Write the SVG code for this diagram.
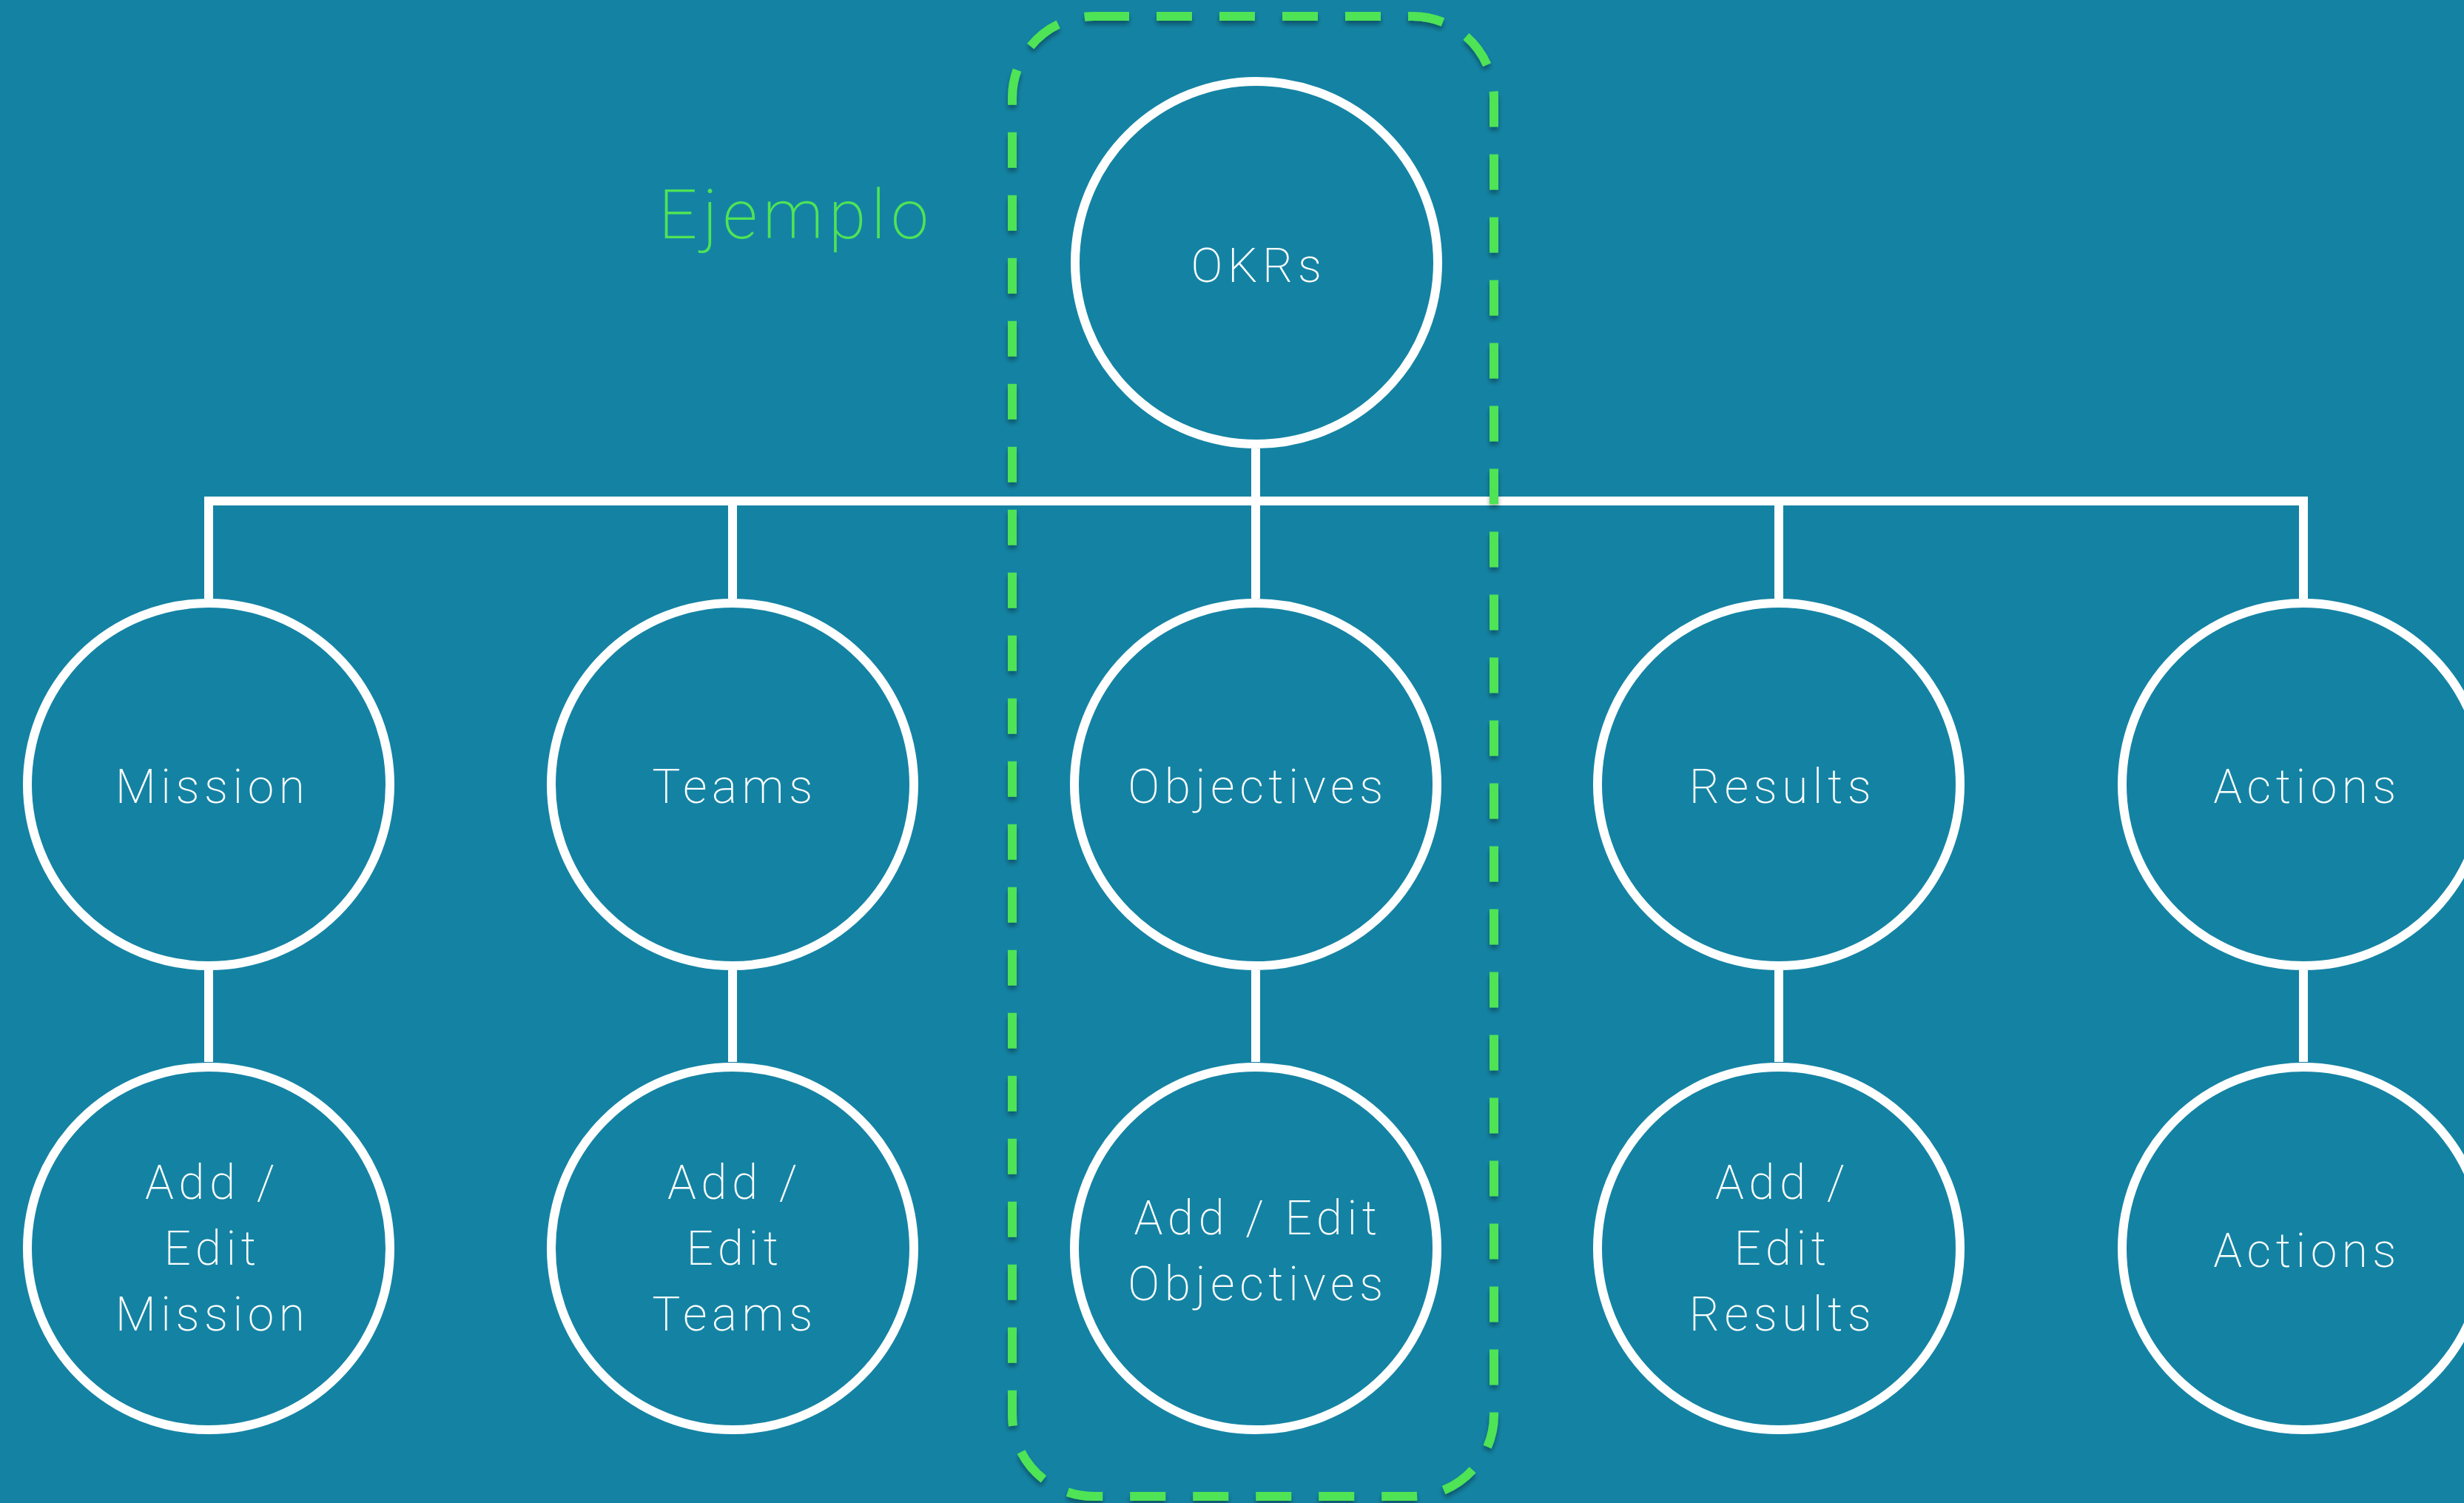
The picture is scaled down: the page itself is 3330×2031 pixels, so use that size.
<svg xmlns="http://www.w3.org/2000/svg" width="3330" height="2031" viewBox="0 0 3330 2031">
  <style>
    .node circle { fill: none; stroke: #ffffff; stroke-width: 12; }
    .node text { fill: #ffffff; font-family: Roboto, "Liberation Sans", sans-serif; font-weight: 200; font-size: 64px; letter-spacing: 6.5px; text-anchor: middle; }
    .conn { fill: none; stroke: #ffffff; stroke-width: 12; stroke-linejoin: miter; }
    .label { fill: #4fe356; font-family: Roboto, "Liberation Sans", sans-serif; font-weight: 200; font-size: 92px; letter-spacing: 7px; }
    .group-box { fill: none; stroke: #4fe356; stroke-width: 12; stroke-dasharray: 48 37; }
  </style>
  <defs>
    <filter id="shadow" x="-10%" y="-10%" width="120%" height="120%">
      <feDropShadow dx="0" dy="5" stdDeviation="3" flood-color="#000000" flood-opacity="0.35"/>
    </filter>
  </defs>
  <rect x="0" y="0" width="3330" height="2031" fill="#1483a3"/>

  <g id="connectors">
    <path class="conn" d="M282,809 V677 H3113 V809"/>
    <path class="conn" d="M990,677 V809"/>
    <path class="conn" d="M1697,606 V809"/>
    <path class="conn" d="M2404,677 V809"/>
    <path class="conn" d="M282,1311 V1435"/>
    <path class="conn" d="M990,1311 V1435"/>
    <path class="conn" d="M1697,1311 V1435"/>
    <path class="conn" d="M2404,1311 V1435"/>
    <path class="conn" d="M3113,1311 V1435"/>
  </g>

  <g id="okrs" class="node">
    <circle cx="1698" cy="355" r="245"/>
    <text x="1701" y="381">OKRs</text>
  </g>

  <g id="mission" class="node">
    <circle cx="282" cy="1060" r="245"/>
    <text x="287" y="1085">Mission</text>
  </g>
  <g id="teams" class="node">
    <circle cx="990" cy="1060" r="245"/>
    <text x="993" y="1085">Teams</text>
  </g>
  <g id="objectives" class="node">
    <circle cx="1697" cy="1060" r="245"/>
    <text x="1700" y="1085">Objectives</text>
  </g>
  <g id="results" class="node">
    <circle cx="2404" cy="1060" r="245"/>
    <text x="2409" y="1085">Results</text>
  </g>
  <g id="actions" class="node">
    <circle cx="3113" cy="1060" r="245"/>
    <text x="3118" y="1085">Actions</text>
  </g>

  <g id="edit-mission" class="node">
    <circle cx="282" cy="1687" r="245"/>
    <text x="287" y="1620">Add /</text>
    <text x="287" y="1709">Edit</text>
    <text x="287" y="1798">Mission</text>
  </g>
  <g id="edit-teams" class="node">
    <circle cx="990" cy="1687" r="245"/>
    <text x="993" y="1620">Add /</text>
    <text x="993" y="1709">Edit</text>
    <text x="993" y="1798">Teams</text>
  </g>
  <g id="edit-objectives" class="node">
    <circle cx="1697" cy="1687" r="245"/>
    <text x="1700" y="1668">Add / Edit</text>
    <text x="1700" y="1757">Objectives</text>
  </g>
  <g id="edit-results" class="node">
    <circle cx="2404" cy="1687" r="245"/>
    <text x="2409" y="1620">Add /</text>
    <text x="2409" y="1709">Edit</text>
    <text x="2409" y="1798">Results</text>
  </g>
  <g id="actions-leaf" class="node">
    <circle cx="3113" cy="1687" r="245"/>
    <text x="3118" y="1712">Actions</text>
  </g>

  <g id="ejemplo-group">
    <rect class="group-box" filter="url(#shadow)" x="1368" y="22" width="651" height="2000" rx="110" ry="110"/>
    <text class="label" x="890" y="322">Ejemplo</text>
  </g>
</svg>
